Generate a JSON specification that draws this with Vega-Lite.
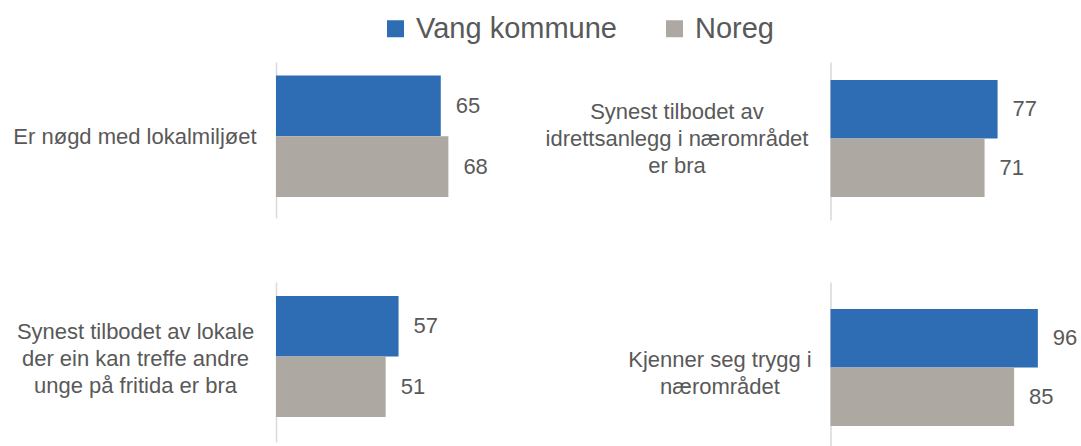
{
  "$schema": "https://vega.github.io/schema/vega-lite/v6.json",
  "autosize": {"type": "none"},
  "padding": {"left": 276, "top": 62, "right": 805, "bottom": 384},
  "background": "white",
  "config": {
    "font": "Liberation Sans",
    "view": {"stroke": null},
    "axis": {
      "domainColor": "#d9d9d9",
      "domainWidth": 1.5,
      "ticks": false,
      "grid": false,
      "labelFont": "Liberation Sans",
      "labelFontSize": 22,
      "labelColor": "#595959",
      "labelAlign": "center",
      "labelBaseline": "middle",
      "labelLimit": 1000,
      "labelLineHeight": 27
    },
    "legend": {
      "padding": 0,
      "labelFont": "Liberation Sans",
      "labelFontSize": 29,
      "labelColor": "#595959",
      "labelLimit": 500,
      "symbolType": "square",
      "symbolSize": 289,
      "symbolStrokeWidth": 0,
      "symbolOpacity": 1,
      "labelOffset": 6,
      "columnPadding": 43
    }
  },
  "bounds": "flush",
  "columns": 2,
  "spacing": {"row": 62, "column": 300.5},
  "resolve": {"scale": {"x": "independent", "y": "independent", "yOffset": "independent", "color": "shared"}, "axis": {"y": "independent"}},
  "concat": [
    {
      "width": 253.5,
      "height": 156,
      "data": {"values": [
        {"question": "Er nøgd med lokalmiljøet", "series": "Vang kommune", "value": 65},
        {"question": "Er nøgd med lokalmiljøet", "series": "Noreg", "value": 68}
      ]},
      "encoding": {
        "y": {"field": "question", "type": "nominal", "title": null,
          "scale": {"paddingInner": 0, "paddingOuter": 0.1425, "align": 0.39},
          "axis": {"labelPadding": 141.5, "labelOffset": 1, "labelExpr": "split(datum.label, '\\n')"}},
        "yOffset": {"field": "series", "type": "nominal", "scale": {"domain": ["Vang kommune", "Noreg"], "paddingInner": 0, "paddingOuter": 0}},
        "x": {"field": "value", "type": "quantitative", "scale": {"domain": [0, 100]}, "axis": null}
      },
      "layer": [
        {"mark": {"type": "bar"},
         "encoding": {"color": {"field": "series", "type": "nominal", "sort": ["Vang kommune", "Noreg"],
           "scale": {"domain": ["Vang kommune", "Noreg"], "range": ["#2E6DB4", "#ADA8A2"]},
           "legend": {"title": null, "orient": "none", "direction": "horizontal", "legendX": 105, "legendY": -48}}}},
        {"mark": {"type": "text", "align": "left", "baseline": "middle", "dx": 15, "fontSize": 22, "color": "#595959", "font": "Liberation Sans"},
         "encoding": {"text": {"field": "value", "type": "quantitative"}}}
      ]
    },
    {
      "width": 217,
      "height": 158,
      "data": {"values": [
        {"question": "Synest tilbodet av\nidrettsanlegg i nærområdet\ner bra", "series": "Vang kommune", "value": 77},
        {"question": "Synest tilbodet av\nidrettsanlegg i nærområdet\ner bra", "series": "Noreg", "value": 71}
      ]},
      "encoding": {
        "y": {"field": "question", "type": "nominal", "title": null,
          "scale": {"paddingInner": 0, "paddingOuter": 0.175, "align": 0.44},
          "axis": {"labelPadding": 154, "labelOffset": -27, "labelExpr": "split(datum.label, '\\n')"}},
        "yOffset": {"field": "series", "type": "nominal", "scale": {"domain": ["Vang kommune", "Noreg"], "paddingInner": 0, "paddingOuter": 0}},
        "x": {"field": "value", "type": "quantitative", "scale": {"domain": [0, 100]}, "axis": null}
      },
      "layer": [
        {"mark": {"type": "bar"},
         "encoding": {"color": {"field": "series", "type": "nominal", "sort": ["Vang kommune", "Noreg"],
           "scale": {"domain": ["Vang kommune", "Noreg"], "range": ["#2E6DB4", "#ADA8A2"]},
           "legend": {"title": null, "orient": "none", "direction": "horizontal", "legendX": 105, "legendY": -48}}}},
        {"mark": {"type": "text", "align": "left", "baseline": "middle", "dx": 15, "fontSize": 22, "color": "#595959", "font": "Liberation Sans"},
         "encoding": {"text": {"field": "value", "type": "quantitative"}}}
      ]
    },
    {
      "width": 215,
      "height": 160,
      "data": {"values": [
        {"question": "Synest tilbodet av lokale\nder ein kan treffe andre\nunge på fritida er bra", "series": "Vang kommune", "value": 57},
        {"question": "Synest tilbodet av lokale\nder ein kan treffe andre\nunge på fritida er bra", "series": "Noreg", "value": 51}
      ]},
      "encoding": {
        "y": {"field": "question", "type": "nominal", "title": null,
          "scale": {"paddingInner": 0, "paddingOuter": 0.161, "align": 0.36},
          "axis": {"labelPadding": 141, "labelOffset": -25, "labelExpr": "split(datum.label, '\\n')"}},
        "yOffset": {"field": "series", "type": "nominal", "scale": {"domain": ["Vang kommune", "Noreg"], "paddingInner": 0, "paddingOuter": 0}},
        "x": {"field": "value", "type": "quantitative", "scale": {"domain": [0, 100]}, "axis": null}
      },
      "layer": [
        {"mark": {"type": "bar"},
         "encoding": {"color": {"field": "series", "type": "nominal", "sort": ["Vang kommune", "Noreg"],
           "scale": {"domain": ["Vang kommune", "Noreg"], "range": ["#2E6DB4", "#ADA8A2"]},
           "legend": {"title": null, "orient": "none", "direction": "horizontal", "legendX": 105, "legendY": -48}}}},
        {"mark": {"type": "text", "align": "left", "baseline": "middle", "dx": 15, "fontSize": 22, "color": "#595959", "font": "Liberation Sans"},
         "encoding": {"text": {"field": "value", "type": "quantitative"}}}
      ]
    },
    {
      "width": 216,
      "height": 164,
      "data": {"values": [
        {"question": "Kjenner seg trygg i\nnærområdet", "series": "Vang kommune", "value": 96},
        {"question": "Kjenner seg trygg i\nnærområdet", "series": "Noreg", "value": 85}
      ]},
      "encoding": {
        "y": {"field": "question", "type": "nominal", "title": null,
          "scale": {"paddingInner": 0, "paddingOuter": 0.201, "align": 0.574},
          "axis": {"labelPadding": 111, "labelOffset": -7, "labelExpr": "split(datum.label, '\\n')"}},
        "yOffset": {"field": "series", "type": "nominal", "scale": {"domain": ["Vang kommune", "Noreg"], "paddingInner": 0, "paddingOuter": 0}},
        "x": {"field": "value", "type": "quantitative", "scale": {"domain": [0, 100]}, "axis": null}
      },
      "layer": [
        {"mark": {"type": "bar"},
         "encoding": {"color": {"field": "series", "type": "nominal", "sort": ["Vang kommune", "Noreg"],
           "scale": {"domain": ["Vang kommune", "Noreg"], "range": ["#2E6DB4", "#ADA8A2"]},
           "legend": {"title": null, "orient": "none", "direction": "horizontal", "legendX": 105, "legendY": -48}}}},
        {"mark": {"type": "text", "align": "left", "baseline": "middle", "dx": 15, "fontSize": 22, "color": "#595959", "font": "Liberation Sans"},
         "encoding": {"text": {"field": "value", "type": "quantitative"}}}
      ]
    }
  ]
}
